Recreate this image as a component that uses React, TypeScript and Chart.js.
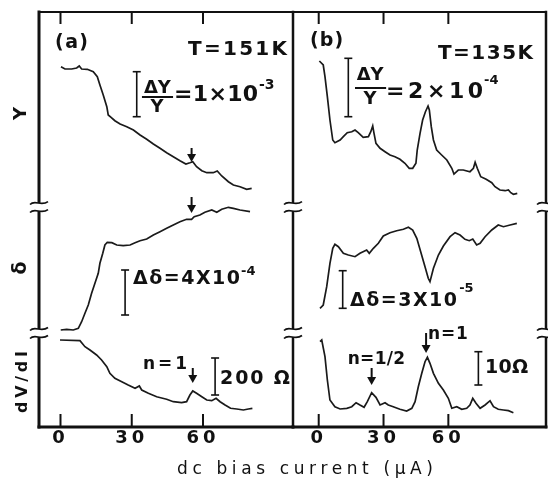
import React, { useEffect, useRef } from "react";
import { Chart, registerables } from "chart.js";

Chart.register(...registerables);

// ---------- data (bias current in µA, signals in arbitrary units) ----------
const TICKS = [0, 30, 60];

// (a) T = 151 K
const aYx = [0.2,1.9,4.7,6.8,7.9,8.9,11.3,13.8,15.5,16.6,18.0,19.5,20.1,21.3,22.9,25.1,27.9,30.7,33.5,36.3,39.1,41.9,44.7,47.5,50.3,52.8,54.5,55.7,57.3,59.5,61.6,64.3,66.0,67.9,70.7,72.8,75.6,78.4,80.5];
const aYv = [140.3,138,138,139,141,138,137.7,135.3,130.3,122,112,100.3,92,89.7,86.3,83,80.3,77,72,67.7,63,58.7,54.3,50.3,46.3,43,44.3,45.3,40.3,36.3,34.3,34.3,36,31,25.3,22,20.3,17.7,18.7];

const aDx = [0.1,2.6,5.4,7.5,8.9,10.3,11.7,13.1,14.5,15.9,16.6,17.8,18.7,19.7,21.6,23.7,26.4,29.3,31.4,33.5,36.3,39.1,41.9,44.7,47.5,50.3,53.1,55.2,56.3,58.7,60.8,63.7,65.8,67.9,70.7,72.8,75.6,79.8];
const aDv = [3,3.7,3,4.7,11.3,19.7,28,39.7,49.7,59.7,69.7,79.7,88,90.7,90.3,88,87.3,88,90.3,92.3,94,98,101.3,104.7,108,111.3,113.7,113.7,116.3,118,120.7,123,120.7,123.7,125.7,124.7,123,121.3];

const aRx = [-0.2,8.2,10.3,12.4,15.2,17.3,19.5,20.8,22.9,25.8,28.5,31.4,33.2,34.2,37.0,40.5,44.7,47.5,51.0,53.1,54.5,55.7,57.3,59.5,61.6,63.7,65.5,67.2,69.3,71.6,74.2,77.0,79.1,80.8];
const aRv = [87,86.3,80.3,77,72,67,60.3,53.7,48.7,45.3,42,38.7,41,37,33.7,30.3,27.7,25.3,24.3,25.3,32,36,33.7,30.3,27,26.3,28.7,25.3,22,18.7,18,17,18,18.7];

// (b) T = 135 K
const bYx = [0.3,2.1,2.9,4.0,5.2,6.5,7.5,9.9,11.4,13.2,15.3,16.8,18.3,20.6,23.0,24.1,25.0,25.6,26.5,28.4,30.7,33.0,35.3,37.6,39.9,41.9,43.5,45.0,45.6,46.9,48.1,49.4,50.6,51.2,52.1,53.1,54.6,56.9,59.3,61.6,62.6,64.6,66.9,70.0,71.6,72.4,73.4,75.0,77.5,80.1,81.6,83.9,86.3,87.8,88.9,90.1,91.9];
const bYv = [146,142,130.3,110.3,87,67,64.3,67,70.3,74.3,75.3,77,74.3,69.7,70.3,75.3,81,73.7,63.7,58.7,55.3,52,50.3,47.7,43.7,38.7,38.7,43.7,57,73.7,87,95.3,101,97,80.3,67,57,52,47,38.7,33,37,37,35.3,38.7,44.7,38.7,30.3,27.7,24.3,20.3,17,16.3,17,14.3,12.7,13.7];

const bDx = [0.6,2.1,3.7,5.2,6.5,7.5,9.1,11.4,13.7,16.8,19.1,22.2,23.4,25.3,27.6,29.9,33.0,36.1,39.2,41.5,43.5,45.4,47.2,49.2,50.7,51.5,53.1,55.4,57.7,60.8,63.1,65.4,67.7,69.7,71.3,73.1,74.7,77.0,80.1,83.1,85.5,88.6,91.7];
const bDv = [24.7,28,46.3,69.7,84.7,88.7,86.3,79.7,78,76.3,79.7,83,79.7,84.7,89.7,97,100.3,102.3,103.7,105.7,103,94.7,81.3,66.3,54.7,51.3,64.7,78,87,96.3,100.3,98,93.7,92.3,94,88,89.7,96.3,103,108,106.3,108,109.7];

const bRx = [0.6,1.4,2.9,4.0,5.2,7.5,9.9,13.0,15.3,17.3,19.1,21.0,22.5,24.5,26.5,28.4,30.7,32.2,34.5,37.6,40.7,43.1,44.6,46.1,47.7,49.2,50.3,51.5,53.1,55.4,57.7,60.0,61.6,63.9,66.2,68.5,70.0,71.3,72.8,74.7,77.0,79.3,80.9,83.1,85.5,87.8,90.1];
const bRv = [85.3,87,70.3,47,27,20.3,18,18.7,20.3,24.3,22,19.7,25.3,34.3,29.7,22,24.3,22,20.3,17.7,16,18.7,25.3,40.3,53.7,65.3,69.7,63.7,53.7,43.7,37,28.7,18.7,20.3,17.7,18.7,22,28.7,23.7,18.7,22,26.3,20.3,17.7,17,16.3,14.3];

// ---------- layout / style ----------
const W = 548, H = 484;
const FONT = '"DejaVu Sans", "Liberation Sans", Arial, sans-serif';
const INK = "#111";
const BAND_EDGES = [0, 0.2265, 0.5301, 1]; // fractions of plot height, bottom -> top
const RANGE_R = [0, 94];
const RANGE_D = [0, 126];
const RANGE_Y = [0, 195];

function bandAxis(f0: number, f1: number, lo: number, hi: number) {
  const span = (hi - lo) / (f1 - f0);
  const min = lo - f0 * span;
  return { min, max: min + span };
}

type Ann =
  | { k: "text"; s: string; x: number; x2?: number; y: number; ax: string; size: number; align?: "left" | "center"; weight?: string }
  | { k: "arrow"; x: number; y0: number; y1: number; ax: string }
  | { k: "bar"; x: number; y0: number; y1: number; ax: string }
  | { k: "rule"; x: number; x2: number; y: number; ax: string };

const ANN_A: Ann[] = [
  { k: "text", s: "(a)", x: -2.3, x2: 11.6, y: 164, ax: "yY", size: 19 },
  { k: "text", s: "T=151K", x: 53.7, x2: 95.4, y: 157, ax: "yY", size: 20 },
  { k: "bar", x: 32.1, y0: 135.3, y1: 90.3, ax: "yY" },
  { k: "text", s: "ΔY", x: 40.8, y: 119, ax: "yY", size: 18, align: "center" },
  { k: "rule", x: 34.3, x2: 47.4, y: 110, ax: "yY" },
  { k: "text", s: "Y", x: 40.6, y: 100, ax: "yY", size: 18, align: "center" },
  { k: "text", s: "=1×10", x: 47.8, x2: 83.2, y: 112, ax: "yY", size: 22 },
  { k: "text", s: "-3", x: 83.6, y: 122, ax: "yY", size: 14 },
  { k: "arrow", x: 55.2, y0: 59, y1: 45, ax: "yY" },
  { k: "arrow", x: 55.2, y0: 136, y1: 120, ax: "yD" },
  { k: "bar", x: 27.2, y0: 63, y1: 18, ax: "yD" },
  { k: "text", s: "Δδ=4X10", x: 30.5, x2: 75.6, y: 54, ax: "yD", size: 19, weight: "600" },
  { k: "text", s: "-4", x: 76, y: 61, ax: "yD", size: 13 },
  { k: "text", s: "n=1", x: 34.7, x2: 53.3, y: 62, ax: "yR", size: 17 },
  { k: "arrow", x: 55.7, y0: 59, y1: 44, ax: "yR" },
  { k: "bar", x: 65.1, y0: 69, y1: 32, ax: "yR" },
  { k: "text", s: "200 Ω", x: 67.2, x2: 96.6, y: 48, ax: "yR", size: 19 },
];

const ANN_B: Ann[] = [
  { k: "text", s: "(b)", x: -4.0, x2: 11.3, y: 166, ax: "yY", size: 19 },
  { k: "text", s: "T=135K", x: 55.2, x2: 99.2, y: 153, ax: "yY", size: 20 },
  { k: "bar", x: 13.7, y0: 148.7, y1: 90.3, ax: "yY" },
  { k: "text", s: "ΔY", x: 23.8, y: 132, ax: "yY", size: 18, align: "center" },
  { k: "rule", x: 16.8, x2: 31.2, y: 119, ax: "yY" },
  { k: "text", s: "Y", x: 23.8, y: 108, ax: "yY", size: 18, align: "center" },
  { k: "text", s: "=2×10", x: 31.2, x2: 76.1, y: 115, ax: "yY", size: 22 },
  { k: "text", s: "-4", x: 76.5, y: 126, ax: "yY", size: 13 },
  { k: "bar", x: 11.1, y0: 62.3, y1: 24.7, ax: "yD" },
  { k: "text", s: "Δδ=3X10", x: 14.5, x2: 64.0, y: 32, ax: "yD", size: 19, weight: "600" },
  { k: "text", s: "-5", x: 65.0, y: 44, ax: "yD", size: 13 },
  { k: "text", s: "n=1/2", x: 13.4, x2: 40.0, y: 67, ax: "yR", size: 17 },
  { k: "arrow", x: 24.5, y0: 59, y1: 42, ax: "yR" },
  { k: "text", s: "n=1", x: 50.6, x2: 69.0, y: 92, ax: "yR", size: 17 },
  { k: "arrow", x: 49.7, y0: 94, y1: 74, ax: "yR" },
  { k: "bar", x: 73.9, y0: 75.3, y1: 42, ax: "yR" },
  { k: "text", s: "10Ω", x: 77.0, x2: 96.9, y: 59, ax: "yR", size: 19 },
];

type Panel = {
  id: string;
  xMin: number;
  xMax: number;
  padLeft: number;
  padRight: number;
  traces: { x: number[]; v: number[]; ax: string }[];
  edges: { side: "left" | "right"; w: number }[];
  anns: Ann[];
  titles: boolean;
};

const PANEL_A: Panel = {
  id: "a", xMin: -9.05, xMax: 97.9, padLeft: 39, padRight: W - 293,
  traces: [{ x: aYx, v: aYv, ax: "yY" }, { x: aDx, v: aDv, ax: "yD" }, { x: aRx, v: aRv, ax: "yR" }],
  edges: [{ side: "left", w: 3 }],
  anns: ANN_A,
  titles: true,
};

const PANEL_B: Panel = {
  id: "b", xMin: -11.9, xMax: 105.2, padLeft: 293, padRight: W - 546,
  traces: [{ x: bYx, v: bYv, ax: "yY" }, { x: bDx, v: bDv, ax: "yD" }, { x: bRx, v: bRv, ax: "yR" }],
  edges: [{ side: "left", w: 2.5 }, { side: "right", w: 2.5 }],
  anns: ANN_B,
  titles: false,
};

// ---------- drawing helpers ----------
function drawText(
  ctx: CanvasRenderingContext2D, s: string, x: number, y: number, size: number,
  o: { align?: "left" | "center"; fitW?: number; weight?: string; family?: string } = {}
) {
  ctx.save();
  ctx.font = `${o.weight ?? "bold"} ${size}px ${o.family ?? FONT}`;
  ctx.textBaseline = "middle";
  ctx.textAlign = "left";
  (ctx as any).letterSpacing = "0px";
  const w0 = ctx.measureText(s).width;
  const n = Array.from(s).length;
  let sp = 0;
  if (o.fitW != null && n > 1) sp = (o.fitW - w0) / (n - 1);
  const total = w0 + sp * (n - 1);
  const left = o.align === "center" ? x - total / 2 : x;
  (ctx as any).letterSpacing = `${sp}px`;
  ctx.fillStyle = INK;
  ctx.fillText(s, left, y);
  ctx.restore();
}

function seg(ctx: CanvasRenderingContext2D, x0: number, y0: number, x1: number, y1: number, w: number) {
  ctx.lineWidth = w;
  ctx.beginPath();
  ctx.moveTo(x0, y0);
  ctx.lineTo(x1, y1);
  ctx.stroke();
}

function breakMark(ctx: CanvasRenderingContext2D, x: number, y: number) {
  ctx.save();
  ctx.fillStyle = "#fff";
  ctx.fillRect(x - 3, y - 4, 6, 8);
  ctx.strokeStyle = INK;
  ctx.lineWidth = 1.6;
  for (const dy of [-4, 4]) {
    ctx.beginPath();
    ctx.moveTo(x - 9, y + dy + 1.5);
    ctx.bezierCurveTo(x - 4, y + dy - 4, x + 2, y + dy + 4, x + 9, y + dy - 1.5);
    ctx.stroke();
  }
  ctx.restore();
}

function makePlugin(p: Panel) {
  return {
    id: "frame_" + p.id,
    beforeDraw(chart: any) {
      (chart.ctx as any).letterSpacing = "4px";
    },
    afterDraw(chart: any) {
      const ctx: CanvasRenderingContext2D = chart.ctx;
      const a = chart.chartArea;
      const xs = chart.scales.x;
      ctx.save();
      (ctx as any).letterSpacing = "0px";
      ctx.strokeStyle = INK;
      ctx.fillStyle = INK;
      ctx.lineCap = "square";
      // frame
      seg(ctx, a.left, a.top, a.right, a.top, 2);
      seg(ctx, a.left, a.bottom, a.right, a.bottom, 3);
      const breakYs = [
        chart.scales.yR.getPixelForValue(RANGE_R[1]),
        chart.scales.yY.getPixelForValue(RANGE_Y[0]),
      ];
      for (const e of p.edges) {
        const ex = e.side === "left" ? a.left : a.right;
        seg(ctx, ex, a.top, ex, a.bottom, e.w);
      }
      ctx.lineCap = "butt";
      // ticks (inside, top and bottom)
      for (const t of TICKS) {
        const tx = xs.getPixelForValue(t);
        seg(ctx, tx, a.top, tx, a.top + 12, 2);
        seg(ctx, tx, a.bottom, tx, a.bottom - 13, 2);
      }
      for (const e of p.edges) {
        const ex = e.side === "left" ? a.left : a.right;
        for (const by of breakYs) breakMark(ctx, ex, by);
      }
      // annotations
      for (const an of p.anns) {
        const ys = chart.scales[an.ax];
        if (an.k === "text") {
          const x0 = xs.getPixelForValue(an.x);
          const fitW = an.x2 != null ? xs.getPixelForValue(an.x2) - x0 : undefined;
          drawText(ctx, an.s, x0, ys.getPixelForValue(an.y), an.size, { align: an.align, fitW, weight: an.weight });
        } else if (an.k === "arrow") {
          const x = xs.getPixelForValue(an.x);
          const y0 = ys.getPixelForValue(an.y0);
          const y1 = ys.getPixelForValue(an.y1);
          seg(ctx, x, y0, x, y1 - 7, 2);
          ctx.beginPath();
          ctx.moveTo(x - 4.5, y1 - 8);
          ctx.lineTo(x + 4.5, y1 - 8);
          ctx.lineTo(x, y1);
          ctx.closePath();
          ctx.fill();
        } else if (an.k === "bar") {
          const x = xs.getPixelForValue(an.x);
          const y0 = ys.getPixelForValue(an.y0);
          const y1 = ys.getPixelForValue(an.y1);
          seg(ctx, x, y0, x, y1, 1.6);
          seg(ctx, x - 4, y0, x + 4, y0, 1.6);
          seg(ctx, x - 4, y1, x + 4, y1, 1.6);
        } else if (an.k === "rule") {
          const y = ys.getPixelForValue(an.y);
          seg(ctx, xs.getPixelForValue(an.x), y, xs.getPixelForValue(an.x2), y, 2);
        }
      }
      // axis titles
      if (p.titles) {
        const bandMid = (ax: string, r: number[]) =>
          (chart.scales[ax].getPixelForValue(r[0]) + chart.scales[ax].getPixelForValue(r[1])) / 2;
        const rot = (s: string, x: number, y: number, size: number, fitW?: number) => {
          ctx.save();
          ctx.translate(x, y);
          ctx.rotate(-Math.PI / 2);
          drawText(ctx, s, 0, 0, size, { align: "center", fitW, weight: "600" });
          ctx.restore();
        };
        rot("Y", 21, bandMid("yY", RANGE_Y) + 4, 18);
        rot("δ", 21, bandMid("yD", RANGE_D) - 2, 19);
        rot("dV/dI", 23, bandMid("yR", RANGE_R) + 2, 16, 62);
        drawText(ctx, "dc bias current (μA)", 177, 470, 17, { weight: "normal", family: '"DejaVu Sans", sans-serif', fitW: 256 });
      }
      ctx.restore();
    },
  };
}

function makeConfig(p: Panel): any {
  const y = bandAxis(BAND_EDGES[2], BAND_EDGES[3], RANGE_Y[0], RANGE_Y[1]);
  const d = bandAxis(BAND_EDGES[1], BAND_EDGES[2], RANGE_D[0], RANGE_D[1]);
  const r = bandAxis(BAND_EDGES[0], BAND_EDGES[1], RANGE_R[0], RANGE_R[1]);
  return {
    type: "line",
    data: {
      datasets: p.traces.map((t) => ({
        data: t.x.map((x, i) => ({ x, y: t.v[i] })),
        yAxisID: t.ax,
        borderColor: "#1a1a1a",
        borderWidth: 1.7,
        pointRadius: 0,
        fill: false,
        tension: 0,
      })),
    },
    options: {
      animation: false,
      responsive: false,
      devicePixelRatio: 1,
      events: [],
      layout: { padding: { left: p.padLeft, right: p.padRight, top: 12, bottom: 0 } },
      plugins: { legend: { display: false }, tooltip: { enabled: false }, title: { display: false } },
      scales: {
        x: {
          type: "linear",
          position: "bottom",
          min: p.xMin,
          max: p.xMax,
          grid: { display: false, drawTicks: false },
          border: { display: false },
          ticks: { color: INK, padding: 1, font: { family: FONT, size: 18, weight: "bold" } },
          afterBuildTicks: (s: any) => {
            s.ticks = TICKS.map((v) => ({ value: v }));
          },
          afterFit: (s: any) => {
            s.height = H - 427;
          },
        },
        yY: { type: "linear", display: false, min: y.min, max: y.max },
        yD: { type: "linear", display: false, min: d.min, max: d.max },
        yR: { type: "linear", display: false, min: r.min, max: r.max },
      },
    },
    plugins: [makePlugin(p)],
  };
}

export default function App() {
  const refA = useRef<HTMLCanvasElement>(null);
  const refB = useRef<HTMLCanvasElement>(null);
  useEffect(() => {
    const ca = new Chart(refA.current as HTMLCanvasElement, makeConfig(PANEL_A));
    const cb = new Chart(refB.current as HTMLCanvasElement, makeConfig(PANEL_B));
    return () => {
      ca.destroy();
      cb.destroy();
    };
  }, []);
  return (
    <div style={{ position: "absolute", left: 0, top: 0, width: W, height: H, background: "#fff" }}>
      <canvas ref={refA} width={W} height={H} style={{ position: "absolute", left: 0, top: 0 }} />
      <canvas ref={refB} width={W} height={H} style={{ position: "absolute", left: 0, top: 0 }} />
    </div>
  );
}
